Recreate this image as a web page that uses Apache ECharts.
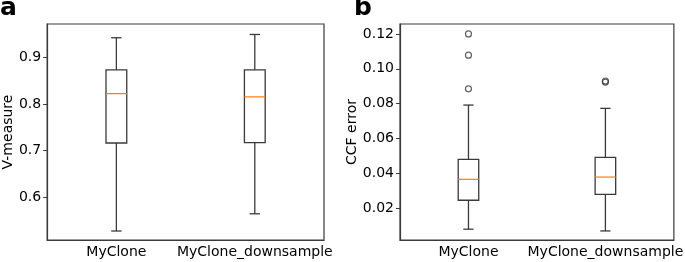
<!DOCTYPE html>
<html>
<head>
<meta charset="utf-8">
<script src="https://cdn.jsdelivr.net/npm/echarts@6/dist/echarts.min.js"></script>
<style>
  html, body { margin: 0; padding: 0; background: #fff; }
  #chart { width: 685px; height: 262px; }
</style>
</head>
<body>
<div id="chart"></div>
<script>
// 分类
const categories = ['MyClone', 'MyClone_downsample'];

// 箱线统计 [min, Q1, median, Q3, max]
const vmeasureStats = [
    [0.527, 0.716, 0.822, 0.873, 0.942],
    [0.564, 0.717, 0.815, 0.873, 0.949]
];
const ccfStats = [
    [0.0080, 0.0246, 0.0366, 0.0480, 0.0792],
    [0.0070, 0.0280, 0.0379, 0.0492, 0.0773]
];

// 离群点 [分类序号, 值]
const ccfOutliers = [
    [0, 0.1200], [0, 0.1078], [0, 0.0885],
    [1, 0.0930], [1, 0.0924]
];

// 刻度
const vmeasureTicks = [0.6, 0.7, 0.8, 0.9];
const ccfTicks = [0.02, 0.04, 0.06, 0.08, 0.10, 0.12];

const font = 'DejaVu Sans';
const lineColor = '#3a3a3a';

const chart = echarts.init(document.getElementById('chart'));

// 画箱子（matplotlib 风格：帽子只有箱宽一半，中位线橙色）
function renderBox(params, api) {
    const i = api.value(0);
    const band = api.size([1, 0])[0];
    const boxW = band * 0.15;
    const capW = boxW / 2;
    const pMin = api.coord([i, api.value(1)]);
    const pQ1 = api.coord([i, api.value(2)]);
    const pMed = api.coord([i, api.value(3)]);
    const pQ3 = api.coord([i, api.value(4)]);
    const pMax = api.coord([i, api.value(5)]);
    const x = pMin[0];
    const stroke = { stroke: lineColor, lineWidth: 1.3, fill: null };
    return {
        type: 'group',
        children: [
            { type: 'rect', shape: { x: x - boxW / 2, y: pQ3[1], width: boxW, height: pQ1[1] - pQ3[1] }, style: stroke },
            { type: 'line', shape: { x1: x, y1: pQ1[1], x2: x, y2: pMin[1] }, style: stroke },
            { type: 'line', shape: { x1: x, y1: pQ3[1], x2: x, y2: pMax[1] }, style: stroke },
            { type: 'line', shape: { x1: x - capW / 2, y1: pMin[1], x2: x + capW / 2, y2: pMin[1] }, style: stroke },
            { type: 'line', shape: { x1: x - capW / 2, y1: pMax[1], x2: x + capW / 2, y2: pMax[1] }, style: stroke },
            { type: 'line', shape: { x1: x - boxW / 2, y1: pMed[1], x2: x + boxW / 2, y2: pMed[1] }, style: { stroke: '#ff7f0e', lineWidth: 1.2 } }
        ]
    };
}

function boxData(stats) {
    return stats.map((s, i) => [i].concat(s));
}

function xAxisFor(gridIndex) {
    return {
        type: 'category',
        gridIndex: gridIndex,
        data: categories,
        axisLine: { lineStyle: { color: lineColor, width: 1.2 } },
        axisTick: { alignWithLabel: true, length: 4, lineStyle: { color: lineColor } },
        axisLabel: { interval: 0, color: '#000', fontFamily: font, fontSize: 14, margin: 5 },
        splitLine: { show: false }
    };
}

function yAxisFor(gridIndex, min, max, ticks, name, nameGap, digits) {
    return {
        type: 'value',
        gridIndex: gridIndex,
        min: min,
        max: max,
        name: name,
        nameLocation: 'middle',
        nameRotate: 90,
        nameGap: nameGap,
        nameTextStyle: { color: '#000', fontFamily: font, fontSize: 14 },
        axisLine: { show: true, lineStyle: { color: lineColor, width: 1.2 } },
        axisTick: { show: true, length: 4, customValues: ticks, lineStyle: { color: lineColor } },
        axisLabel: {
            color: '#000', fontFamily: font, fontSize: 14, margin: 6,
            customValues: ticks,
            formatter: v => v.toFixed(digits)
        },
        splitLine: { show: false }
    };
}

const option = {
    animation: false,
    title: [
        { text: 'a', left: 0, top: -4, padding: 0, textStyle: { fontFamily: font, fontSize: 25, fontWeight: 'bold', color: '#000' } },
        { text: 'b', left: 354, top: -4, padding: 0, textStyle: { fontFamily: font, fontSize: 25, fontWeight: 'bold', color: '#000' } }
    ],
    grid: [
        { left: 45, right: 361, top: 24, bottom: 22, show: true, borderColor: lineColor, borderWidth: 1.2 },
        { left: 400, right: 6, top: 24, bottom: 22, show: true, borderColor: lineColor, borderWidth: 1.2 }
    ],
    xAxis: [xAxisFor(0), xAxisFor(1)],
    yAxis: [
        yAxisFor(0, 0.5077, 0.9715, vmeasureTicks, 'V-measure', 30, 1),
        yAxisFor(1, 0.0018, 0.1257, ccfTicks, 'CCF error', 38, 2)
    ],
    series: [
        {
            type: 'custom',
            xAxisIndex: 0,
            yAxisIndex: 0,
            renderItem: renderBox,
            data: boxData(vmeasureStats)
        },
        {
            type: 'custom',
            xAxisIndex: 1,
            yAxisIndex: 1,
            renderItem: renderBox,
            data: boxData(ccfStats)
        },
        {
            type: 'scatter',
            xAxisIndex: 1,
            yAxisIndex: 1,
            symbol: 'circle',
            symbolSize: 6,
            itemStyle: { color: 'transparent', borderColor: lineColor, borderWidth: 1.2 },
            data: ccfOutliers
        }
    ]
};

chart.setOption(option);

window.addEventListener('resize', function() {
    chart.resize();
});
</script>
</body>
</html>
